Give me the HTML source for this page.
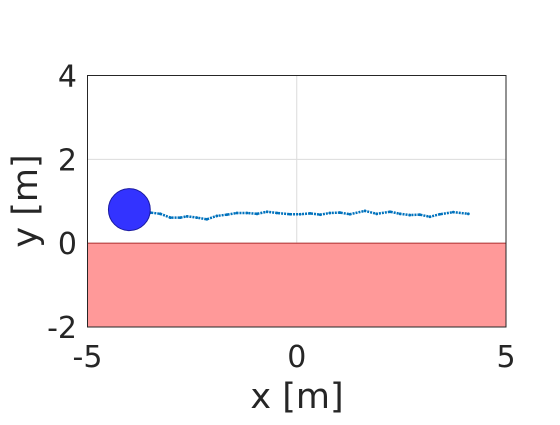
<!DOCTYPE html>
<html><head><meta charset="utf-8"><style>
body{margin:0;background:#fff;width:560px;height:420px;overflow:hidden}
text{font-family:"DejaVu Sans","Liberation Sans",sans-serif;fill:#262626}
</style></head><body>
<svg id="chart" width="560" height="420" xmlns="http://www.w3.org/2000/svg"></svg>
<script>
const xTicks=[-5,0,5];
const yTicks=[-2,0,2,4];
const trajX=[-3.97,-3.5,-3.26,-3.02,-2.78,-2.62,-2.39,-2.15,-1.91,-1.67,-1.43,-1.19,-0.95,-0.71,-0.47,-0.16,0.08,0.32,0.56,0.79,1.03,1.27,1.63,1.91,2.23,2.47,2.7,2.94,3.18,3.42,3.74,4.1];
const trajY=[0.81,0.73,0.70,0.61,0.61,0.64,0.61,0.57,0.65,0.68,0.72,0.72,0.70,0.75,0.72,0.69,0.69,0.71,0.68,0.72,0.73,0.69,0.77,0.70,0.75,0.70,0.67,0.68,0.63,0.69,0.74,0.70];
const obstacle=[-4.0,0.8,0.5];
const unsafeRegion=[-5,5,-2,0];
const L=87.5,R=506,T=75.5,B=327;
const sx=v=>L+(v-(-5))/10*(R-L);
const sy=v=>B-(v-(-2))/6*(B-T);
const svg=document.getElementById('chart');
const NS='http://www.w3.org/2000/svg';
function mk(tag,attrs,parent){const e=document.createElementNS(NS,tag);for(const k in attrs)e.setAttribute(k,attrs[k]);(parent||svg).appendChild(e);return e;}
let bg=mk('rect',{x:L,y:T,width:R-L,height:B-T,fill:'#fff'});


xTicks.forEach(t=>{if(t>-5&&t<5){let g=mk('line',{x1:sx(t),x2:sx(t),y1:T,y2:B,stroke:'#dcdcdc','stroke-width':1});

}});
yTicks.forEach(t=>{if(t>-2&&t<4){let g=mk('line',{x1:L,x2:R,y1:sy(t),y2:sy(t),stroke:'#dcdcdc','stroke-width':1});

}});
let red=mk('rect',{x:sx(unsafeRegion[0]),y:sy(unsafeRegion[3]),width:sx(unsafeRegion[1])-sx(unsafeRegion[0]),height:sy(unsafeRegion[2])-sy(unsafeRegion[3]),fill:'#ff9999',stroke:'#b03030','stroke-width':1});


let pts=trajX.map((x,i)=>sx(x)+','+sy(trajY[i])).join(' ');
let pl=mk('polyline',{points:pts,fill:'none',stroke:'#0072bd','stroke-width':2.5,'stroke-dasharray':'2 1'});


trajX.forEach((x,i)=>{let c=mk('circle',{cx:sx(x),cy:sy(trajY[i]),r:1.4,fill:'#0072bd'});

});
let ob=mk('ellipse',{cx:sx(obstacle[0]),cy:sy(obstacle[1]),rx:obstacle[2]*(R-L)/10,ry:obstacle[2]*(B-T)/6,fill:'#3333ff',stroke:'#1a1aa0','stroke-width':1});


let box=mk('rect',{x:L,y:T,width:R-L,height:B-T,fill:'none',stroke:'#262626','stroke-width':1});


xTicks.forEach(t=>{let tx=mk('text',{x:sx(t),y:367,'font-size':30,'text-anchor':'middle'});tx.textContent=t;

});
yTicks.forEach(t=>{let tx=mk('text',{x:77,y:sy(t)+11,'font-size':30,'text-anchor':'end'});tx.textContent=t;

});
let xl=mk('text',{x:297,y:408,'font-size':35,'text-anchor':'middle'});xl.textContent='x [m]';


let yl=mk('text',{x:0,y:0,'font-size':35,'text-anchor':'middle',transform:'translate(37,201) rotate(-90)'});yl.textContent='y [m]';


</script>
</body></html>
